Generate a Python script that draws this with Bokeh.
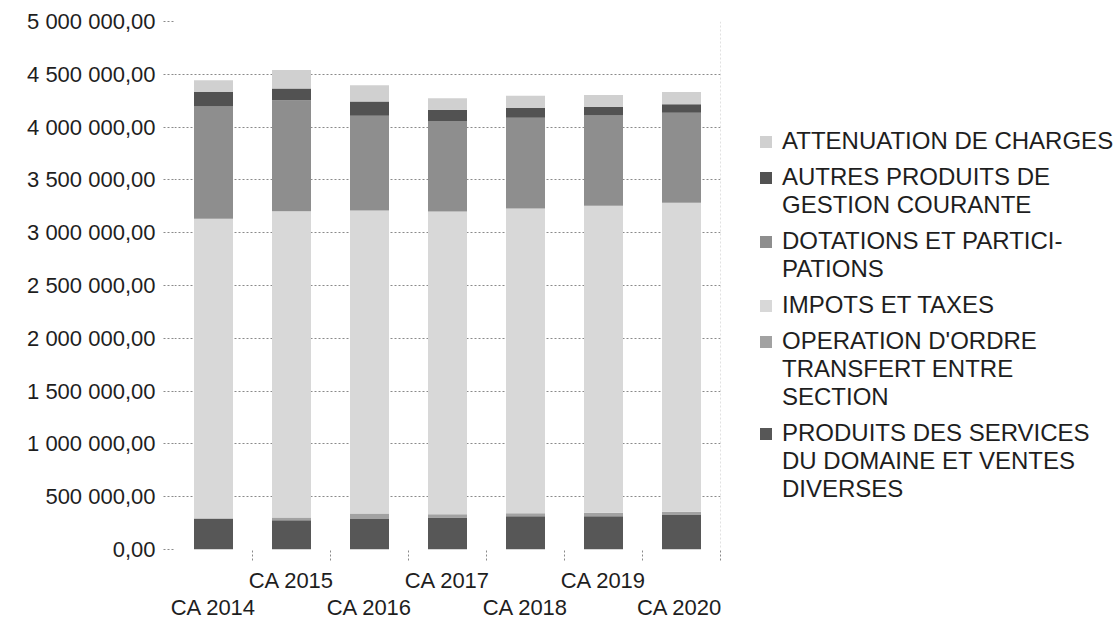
from bokeh.plotting import figure
from bokeh.layouts import row
from bokeh.models import (ColumnDataSource, Legend, LegendItem, FixedTicker,
                          LinearAxis, Range1d, Span)
from bokeh.embed import file_html
from bokeh.resources import INLINE

# Budget years (comptes administratifs)
years = ["CA 2014", "CA 2015", "CA 2016", "CA 2017", "CA 2018", "CA 2019", "CA 2020"]

# Recettes de fonctionnement by chapter, in euros
produits_services = [292000, 277000, 289000, 302000, 314000, 314000, 327000]
operation_ordre = [5000, 25000, 51000, 31000, 29000, 35000, 31000]
impots_taxes = [2835000, 2902000, 2871000, 2868000, 2887000, 2906000, 2925000]
dotations = [1063000, 1051000, 896000, 856000, 858000, 855000, 852000]
autres_produits = [138000, 110000, 135000, 107000, 94000, 82000, 82000]
attenuation = [110000, 176000, 154000, 110000, 114000, 113000, 116000]

# Stack order, bottom to top
stack_keys = ["produits", "operation", "impots", "dotations", "autres", "attenuation"]
stack_labels = [
    "PRODUITS DES SERVICES\nDU DOMAINE ET VENTES\nDIVERSES",
    "OPERATION D'ORDRE\nTRANSFERT ENTRE\nSECTION",
    "IMPOTS ET TAXES",
    "DOTATIONS ET PARTICI-\nPATIONS",
    "AUTRES PRODUITS DE\nGESTION COURANTE",
    "ATTENUATION DE CHARGES",
]
stack_colors = ["#575757", "#a2a2a2", "#d8d8d8", "#8e8e8e", "#525252", "#d0d0d0"]

y_ticks = [0, 500000, 1000000, 1500000, 2000000, 2500000,
           3000000, 3500000, 4000000, 4500000, 5000000]


def fr_number(v):
    return f"{v:,.2f}".replace(",", " ").replace(".", ",")


# one slot per year on a numeric axis: centre of slot i is i + 0.5
slot_centers = [i + 0.5 for i in range(len(years))]
slot_edges = [i + 1 for i in range(len(years))]

source = ColumnDataSource(dict(
    x=slot_centers,
    years=years,
    produits=produits_services,
    operation=operation_ordre,
    impots=impots_taxes,
    dotations=dotations,
    autres=autres_produits,
    attenuation=attenuation,
))

FONT = "Liberation Sans"
TEXT = "#1e1e1e"
GRID = "#8a8a8a"

p = figure(
    x_range=Range1d(0, len(years)), y_range=Range1d(0, 5000000),
    width=722, height=622, output_backend="svg", toolbar_location=None,
    x_axis_location=None, y_axis_location="left",
    min_border_left=174, min_border_right=2, min_border_top=21, min_border_bottom=0,
)
p.outline_line_color = None
p.xgrid.visible = False

p.vbar_stack(stack_keys, x="x", width=0.5, source=source,
             fill_color=stack_colors, line_color=None)

# value axis
yax = p.yaxis[0]
yax.ticker = FixedTicker(ticks=y_ticks)
yax.major_label_overrides = {t: fr_number(t) for t in y_ticks}
yax.axis_line_color = None
yax.major_tick_out = 11
yax.major_tick_in = 0
yax.major_tick_line_color = GRID
yax.major_tick_line_dash = "2 2"
yax.minor_tick_line_color = None
yax.major_label_standoff = 8
yax.major_label_text_font = FONT
yax.major_label_text_font_size = "22px"
yax.major_label_text_color = TEXT

p.ygrid.ticker = FixedTicker(ticks=y_ticks)
p.ygrid.grid_line_color = GRID
p.ygrid.grid_line_dash = "2 2"

# category labels on two staggered rows; the first row also carries the
# small ticks that separate the categories
for r, standoff in ((1, 7), (0, -1)):
    centers = [c for i, c in enumerate(slot_centers) if i % 2 == r]
    names = [y for i, y in enumerate(years) if i % 2 == r]
    ax = LinearAxis(
        ticker=FixedTicker(ticks=centers, minor_ticks=slot_edges if r == 1 else []),
        major_label_overrides=dict(zip(centers, names)),
        major_tick_line_color=None, major_tick_out=0, major_tick_in=0,
        minor_tick_line_color=GRID if r == 1 else None,
        minor_tick_line_dash="2 2", minor_tick_out=11 if r == 1 else 0, minor_tick_in=0,
        axis_line_color=None, major_label_standoff=standoff,
        major_label_text_font=FONT, major_label_text_font_size="22px",
        major_label_text_color=TEXT,
    )
    p.add_layout(ax, "below")

p.add_layout(Span(location=len(years), dimension="height",
                  line_color="#c4c4c4", line_dash="2 2"))

# Legend panel: a text legend with multi-line labels, plus a swatch legend
# whose transparent labels are padded so each swatch sits on a label's first line.
lp = figure(width=398, height=622, output_backend="svg", toolbar_location=None,
            x_axis_location=None, y_axis_location=None,
            x_range=Range1d(0, 1), y_range=Range1d(0, 1),
            min_border=0, outline_line_color=None)
lp.grid.visible = False
# hidden copies of the series, only used as legend keys
swatches = [lp.vbar(x="x", top=key, width=0.5, source=source, fill_color=c,
                    line_color=None, visible=False)
            for key, c in zip(stack_keys, stack_colors)]

legend_order = list(range(len(stack_keys)))[::-1]
line_counts = [stack_labels[k].count("\n") + 1 for k in legend_order]
pad_lines = []
t_top = u_top = 0
for n in line_counts:
    a = t_top - u_top
    pad_lines.append(a)
    u_top += 2 * a + 1
    t_top += n

common = dict(
    location=(36, 46), glyph_width=15, label_standoff=9, spacing=8,
    padding=0, margin=0, border_line_color=None, background_fill_alpha=0,
    label_text_font=FONT, label_text_font_size="24px",
    label_text_color=TEXT, label_text_line_height=1.18,
    inactive_fill_alpha=0,
)
text_legend = Legend(
    items=[LegendItem(label=stack_labels[k], renderers=[swatches[k]]) for k in legend_order],
    glyph_height=0, **common,
)
swatch_legend = Legend(
    items=[LegendItem(label="\n".join(["."] * (2 * a + 1)), renderers=[swatches[k]])
           for k, a in zip(legend_order, pad_lines)],
    glyph_height=15, label_text_alpha=0, **common,
)
lp.add_layout(text_legend)
lp.add_layout(swatch_legend)

layout = row(p, lp, spacing=0)
open("out.html", "w").write(file_html(layout, INLINE))
